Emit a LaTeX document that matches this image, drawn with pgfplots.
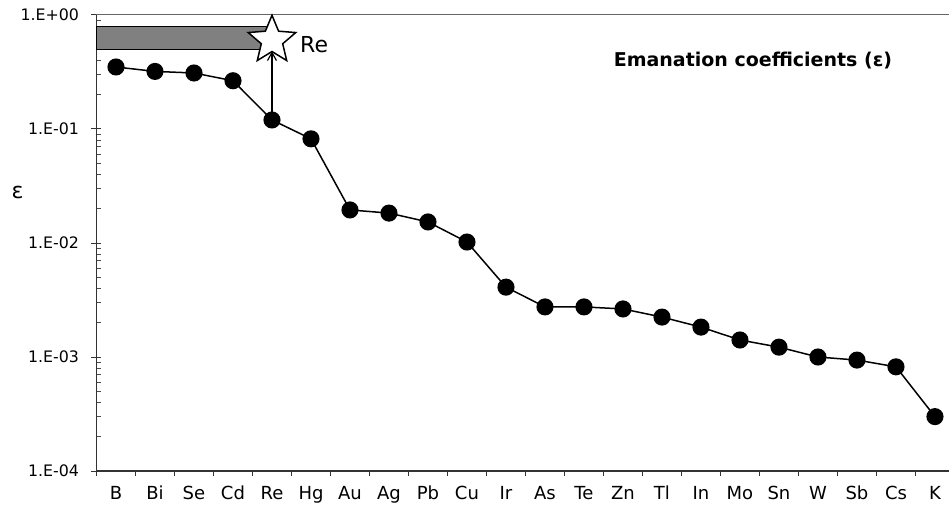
\documentclass[border=0pt]{standalone}
\usepackage{fontspec}
\setmainfont{DejaVu Sans}
\usepackage{pgfplots}
\pgfplotsset{compat=1.18}
\usetikzlibrary{arrows.meta}

% five-pointed outline star used for the Re target value
\pgfdeclareplotmark{bigstar}{%
  \pgfpathmoveto{\pgfpointpolar{90}{\pgfplotmarksize}}%
  \pgfpathlineto{\pgfpointpolar{126}{0.45\pgfplotmarksize}}%
  \pgfpathlineto{\pgfpointpolar{162}{\pgfplotmarksize}}%
  \pgfpathlineto{\pgfpointpolar{198}{0.45\pgfplotmarksize}}%
  \pgfpathlineto{\pgfpointpolar{234}{\pgfplotmarksize}}%
  \pgfpathlineto{\pgfpointpolar{270}{0.45\pgfplotmarksize}}%
  \pgfpathlineto{\pgfpointpolar{306}{\pgfplotmarksize}}%
  \pgfpathlineto{\pgfpointpolar{342}{0.45\pgfplotmarksize}}%
  \pgfpathlineto{\pgfpointpolar{18}{\pgfplotmarksize}}%
  \pgfpathlineto{\pgfpointpolar{54}{0.45\pgfplotmarksize}}%
  \pgfpathclose
  \pgfusepathqfillstroke}

\begin{document}
\begin{tikzpicture}
\begin{axis}[
  scale only axis, width=852.5pt, height=456pt,
  ymode=log, ymin=1e-4, ymax=1,
  xmin=-0.5, xmax=21.36,
  axis x line*=bottom, axis y line*=left,
  axis line style={line width=1.3pt, black!80},
  clip=false,
  xtick={0,...,21},
  xticklabels={B,Bi,Se,Cd,Re,Hg,Au,Ag,Pb,Cu,Ir,As,Te,Zn,Tl,In,Mo,Sn,W,Sb,Cs,K},
  minor xtick={-0.5,0.5,...,21.5},
  ytick={1e-4,1e-3,1e-2,1e-1,1},
  yticklabels={1.E-04,1.E-03,1.E-02,1.E-01,1.E+00},
  minor ytick={2e-4,3e-4,4e-4,5e-4,6e-4,7e-4,8e-4,9e-4,
               2e-3,3e-3,4e-3,5e-3,6e-3,7e-3,8e-3,9e-3,
               2e-2,3e-2,4e-2,5e-2,6e-2,7e-2,8e-2,9e-2,
               2e-1,3e-1,4e-1,5e-1,6e-1,7e-1,8e-1,9e-1},
  tick align=outside,
  major tick length=10pt, minor tick length=5pt,
  major x tick style={draw=none},
  minor x tick style={line width=1pt, black!80},
  major y tick style={xshift=5pt, line width=1pt, black!80},
  minor y tick style={xshift=5pt, line width=0.8pt, black!70},
  xticklabel style={font=\fontsize{18}{20}\selectfont, text height=13.5pt, text depth=4pt, yshift=-2pt},
  yticklabel style={font=\fontsize{15.8}{18}\selectfont, anchor=east, xshift=-4pt},
]
% reported range for Re
\addplot[fill=gray, draw=black, line width=1pt]
  coordinates {(-0.5,0.5) (4,0.5) (4,0.8) (-0.5,0.8)} --cycle;
% arrow from measured Re to the target value
\addplot[-{Straight Barb[length=8pt,width=9pt]}, line width=1.2pt, black]
  coordinates {(4,0.12) (4,0.48)};
% emanation coefficients
\addplot[black, line width=1.5pt, mark=*, mark size=7.8pt] coordinates {
  (0,0.35) (1,0.32) (2,0.31) (3,0.265) (4,0.12) (5,0.082)
  (6,0.0195) (7,0.0183) (8,0.0153) (9,0.0102) (10,0.0041)
  (11,0.00275) (12,0.00275) (13,0.00264) (14,0.00224) (15,0.00183)
  (16,0.00141) (17,0.00122) (18,0.00100) (19,0.00094) (20,0.00082)
  (21,0.00030)};
\addplot[only marks, mark=bigstar, mark size=25pt,
  mark options={fill=white, draw=black, line width=1.5pt}]
  coordinates {(4,0.6)};
\node[anchor=base west, font=\fontsize{22}{24}\selectfont, inner sep=0pt]
  at (axis cs:4,0.6) [xshift=28pt, yshift=-12pt] {Re};
\node[anchor=base, font=\bfseries\fontsize{19}{21}\selectfont, inner sep=0pt]
  at (rel axis cs:0.770,0.886) {Emanation coefficients (ε)};
\node[font=\fontsize{22}{24}\selectfont, inner sep=0pt]
  at (rel axis cs:0,0.61) [xshift=-79pt] {ε};
\draw[black!60, line width=1pt] (rel axis cs:0,1) -- (rel axis cs:1,1);
\coordinate (SW) at (rel axis cs:0,0);
\end{axis}
\pgfresetboundingbox
\path[use as bounding box] ([shift={(-96.5pt,-43pt)}]SW) rectangle ([shift={(852.5pt,471pt)}]SW);
\end{tikzpicture}
\end{document}
